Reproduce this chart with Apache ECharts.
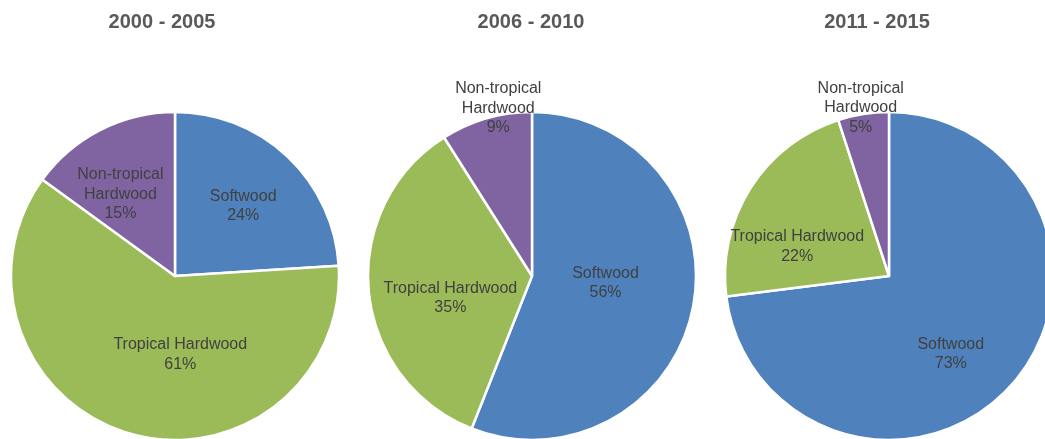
<!DOCTYPE html>
<html>
<head>
<meta charset="utf-8">
<script src="https://cdn.jsdelivr.net/npm/echarts@6/dist/echarts.min.js"></script>
<style>
html,body{margin:0;padding:0;background:#fff;}
#c{width:1045px;height:439px;}
</style>
</head>
<body>
<div id="c"></div>
<script>
// ---- data ----
const periods = ['2000 - 2005', '2006 - 2010', '2011 - 2015'];
const categories = ['Softwood', 'Tropical Hardwood', 'Non-tropical Hardwood'];
const values2000 = [24, 61, 15];
const values2006 = [56, 35, 9];
const values2011 = [73, 22, 5];
const allValues = [values2000, values2006, values2011];

// ---- style / layout ----
const colors = ['#4F81BD', '#9BBB59', '#8064A2'];
const centers = [[175, 276], [532, 276], [889, 276]];
const titleX = [157, 526, 872];
const labelOffsets = [
  [[10, -8], [29, -3], [-16, -6]],
  [[-10, -9], [3, 14], [-10, -86]],
  [[-2, 22], [-20, 16], [-15, -84]]
];

const chart = echarts.init(document.getElementById('c'), null, {renderer: 'canvas'});

const series = allValues.map((vals, p) => ({
  type: 'pie',
  center: centers[p],
  radius: [0, 164],
  startAngle: 90,
  clockwise: true,
  silent: true,
  animation: false,
  itemStyle: {borderColor: '#ffffff', borderWidth: 2.5},
  labelLine: {show: false},
  label: {
    show: true,
    position: 'inside',
    color: '#404040',
    fontFamily: '"Liberation Sans", Arial, sans-serif',
    fontSize: 16,
    lineHeight: 19.5,
    align: 'center',
    formatter: (prm) => prm.name.replace('Non-tropical ', 'Non-tropical\n') + '\n' + prm.value + '%'
  },
  data: categories.map((name, i) => ({
    name: name,
    value: vals[i],
    itemStyle: {color: colors[i]},
    label: {offset: labelOffsets[p][i]}
  }))
}));

chart.setOption({
  backgroundColor: '#ffffff',
  animation: false,
  title: periods.map((t, p) => ({
    text: t,
    left: titleX[p],
    top: 7,
    textAlign: 'center',
    textStyle: {
      fontFamily: '"Liberation Sans", Arial, sans-serif',
      fontSize: 20,
      fontWeight: 'bold',
      color: '#595959'
    }
  })),
  series: series
});
</script>
</body>
</html>
